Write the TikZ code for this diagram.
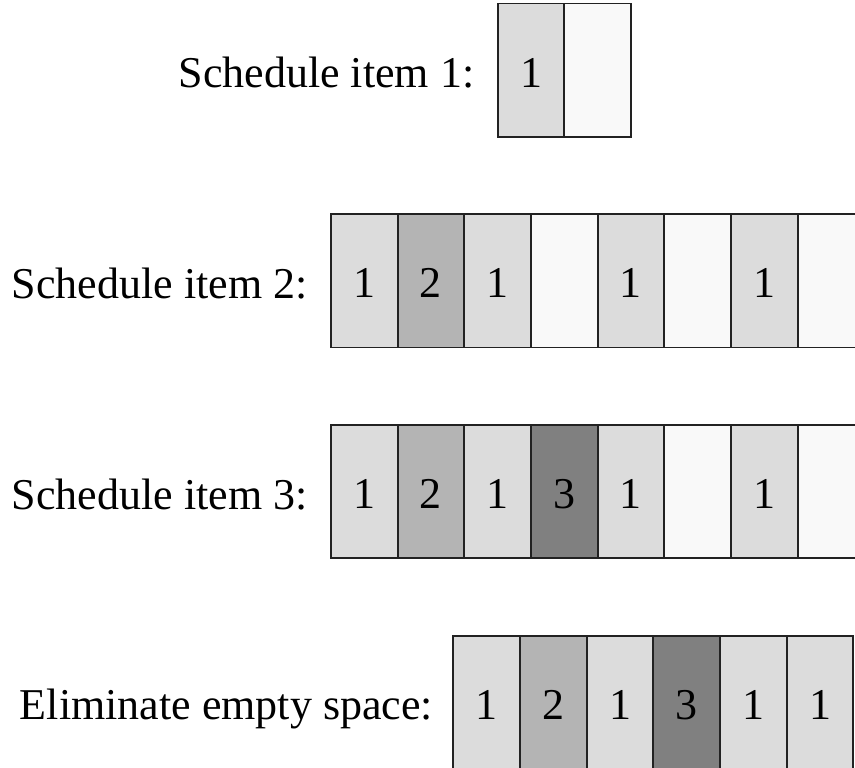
\documentclass[tikz,border=0pt]{standalone}
\usepackage{fontspec}
\setmainfont{Liberation Serif}
\usetikzlibrary{positioning}
\definecolor{schedA}{HTML}{DCDCDC}
\definecolor{schedB}{HTML}{B4B4B4}
\definecolor{schedC}{HTML}{808080}
\definecolor{schedFree}{HTML}{F9F9F9}
\definecolor{schedLine}{HTML}{222222}

\begin{document}
\begin{tikzpicture}[
      x=0.5pt, y=-0.5pt,
      node distance=0pt,
      cell/.style={draw=schedLine, line width=0.9pt, outer sep=0pt,
        inner sep=0pt, minimum width=33.33pt, minimum height=66.75pt,
        text height=17pt, text depth=0pt, font=\fontsize{22}{26}\selectfont},
      itemA/.style={cell, fill=schedA},
      itemB/.style={cell, fill=schedB},
      itemC/.style={cell, fill=schedC},
      freec/.style={cell, fill=schedFree},
      lab/.style={inner sep=0pt, anchor=base east,
        font=\fontsize{22}{26}\selectfont}]
    \useasboundingbox (0,0) rectangle (855,767);
    % schedule item 1
    \node[itemA] (c11) at (531,70.2) {1};
    \node[freec, right=of c11] (c12) {};
    \node[lab] (lab1) at ([xshift=-11.5pt, yshift=-8.5pt]c11.west) {Schedule item 1:};
    % schedule item 2
    \node[itemA] (c21) at (364.3,280.7) {1};
    \node[itemB, right=of c21] (c22) {2};
    \node[itemA, right=of c22] (c23) {1};
    \node[freec, right=of c23] (c24) {};
    \node[itemA, right=of c24] (c25) {1};
    \node[freec, right=of c25] (c26) {};
    \node[itemA, right=of c26] (c27) {1};
    \node[freec, right=of c27] (c28) {};
    \node[lab] (lab2) at ([xshift=-11.5pt, yshift=-9pt]c21.west) {Schedule item 2:};
    % schedule item 3
    \node[itemA] (c31) at (364.3,491.4) {1};
    \node[itemB, right=of c31] (c32) {2};
    \node[itemA, right=of c32] (c33) {1};
    \node[itemC, right=of c33] (c34) {3};
    \node[itemA, right=of c34] (c35) {1};
    \node[freec, right=of c35] (c36) {};
    \node[itemA, right=of c36] (c37) {1};
    \node[freec, right=of c37] (c38) {};
    \node[lab] (lab3) at ([xshift=-11.5pt, yshift=-9pt]c31.west) {Schedule item 3:};
    % packed
    \node[itemA] (c41) at (486.7,702.4) {1};
    \node[itemB, right=of c41] (c42) {2};
    \node[itemA, right=of c42] (c43) {1};
    \node[itemC, right=of c43] (c44) {3};
    \node[itemA, right=of c44] (c45) {1};
    \node[itemA, right=of c45] (c46) {1};
    \node[lab] (lab4) at ([xshift=-10pt, yshift=-8.5pt]c41.west) {Eliminate empty space:};
  \end{tikzpicture}
\end{document}
